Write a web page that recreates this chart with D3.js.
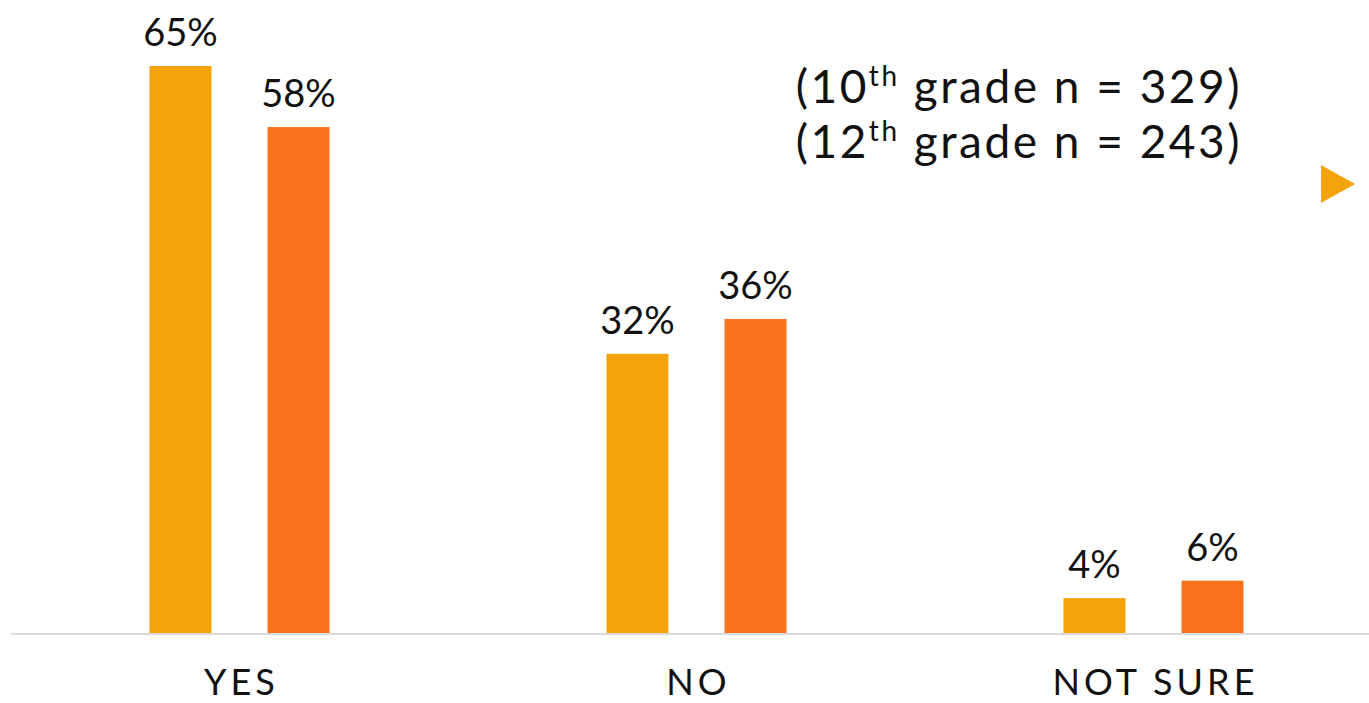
<!DOCTYPE html>
<html><head><meta charset="utf-8">
<script src="https://cdn.jsdelivr.net/npm/d3@7"></script>
<style>body{margin:0;background:#fff}svg{display:block}</style>
</head><body>
<script>
const categories = ["YES", "NO", "NOT SURE"];
const seriesNames = ["10th grade", "12th grade"];
const grade10 = [65, 32, 4];
const grade12 = [58, 36, 6];
const colors = ["#F4A30A", "#F9731E"];
const noteLines = [["10", "th", " grade n = 329"], ["12", "th", " grade n = 243"]];

const W = 1369, H = 703;
const svg = d3.select("body").append("svg").attr("width", W).attr("height", H);
const font = "Lato, 'DejaVu Sans', sans-serif";

const x = d3.scaleBand().domain(categories).range([11, 1382]).paddingInner(0).paddingOuter(0);
const inner = d3.scaleBand().domain(seriesNames).range([-90, 90]).paddingInner(0.475).paddingOuter(0);
const y = d3.scaleLinear().domain([0, 65]).range([633, 66]);

const data = categories.map((c, i) => ({cat: c, vals: [grade10[i], grade12[i]]}));

// baseline
svg.append("line").attr("x1", 11).attr("x2", W).attr("y1", y(0) + 1).attr("y2", y(0) + 1)
  .attr("stroke", "#D9D9D9").attr("stroke-width", 2);

const g = svg.selectAll("g.cat").data(data).join("g")
  .attr("transform", d => `translate(${x(d.cat) + x.bandwidth() / 2},0)`);

g.selectAll("rect").data(d => d.vals.map((v, j) => ({v, s: seriesNames[j], j}))).join("rect")
  .attr("x", d => inner(d.s)).attr("width", inner.bandwidth())
  .attr("y", d => y(d.v)).attr("height", d => y(0) - y(d.v))
  .attr("fill", d => colors[d.j]);

g.selectAll("text.val").data(d => d.vals.map((v, j) => ({v, s: seriesNames[j], j}))).join("text")
  .attr("class", "val")
  .attr("x", d => inner(d.s) + inner.bandwidth() / 2)
  .attr("y", d => y(d.v) - 20)
  .attr("text-anchor", "middle")
  .attr("font-family", font).attr("font-size", 38).attr("fill", "#111")
  .text(d => d.v + "%");

// category axis labels
svg.selectAll("text.cat").data(categories).join("text")
  .attr("class", "cat")
  .attr("x", d => x(d) + x.bandwidth() / 2 + 2)
  .attr("y", 695)
  .attr("text-anchor", "middle")
  .attr("font-family", font).attr("font-size", 36).attr("letter-spacing", 4).attr("fill", "#111")
  .text(d => d);

// note
noteLines.forEach((ln, i) => {
  const t = svg.append("text").attr("font-family", font).attr("font-size", 46).attr("fill", "#111")
    .attr("letter-spacing", 2.5)
    .attr("text-anchor", "end").attr("x", 1242).attr("y", 103 + i * 55);
  t.append("tspan").text("(" + ln[0]);
  t.append("tspan").attr("font-size", 28).attr("dy", -17).text(ln[1]);
  t.append("tspan").attr("dy", 17).text(ln[2] + ")");
});

// triangle marker
svg.append("path").attr("d", d3.line()([[1321, 165], [1355, 184], [1321, 203]]) + "Z").attr("fill", colors[0]);
</script>
</body></html>
